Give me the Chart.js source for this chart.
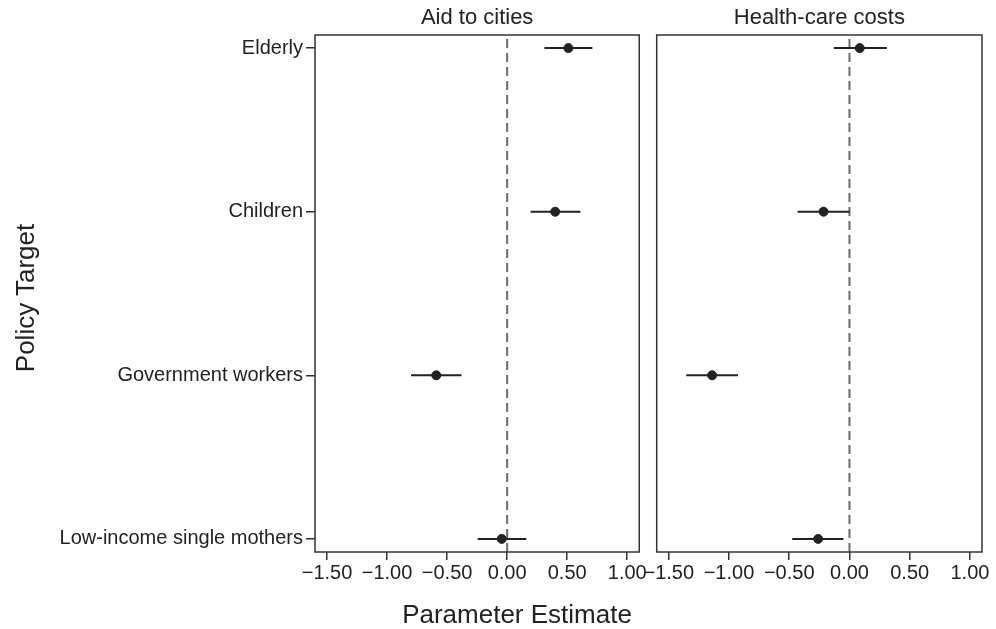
<!DOCTYPE html>
<html>
<head>
<meta charset="utf-8">
<script src="https://cdn.jsdelivr.net/npm/chart.js@4.4.1/dist/chart.umd.min.js"></script>
<style>
  body { margin: 0; background: #fff; }
  #wrap { position: relative; width: 996px; height: 629px; overflow: hidden; }
  canvas { position: absolute; top: 0; }
  .axis-title {
    position: absolute; text-align: center; color: #222;
    font: 26px "Liberation Sans", Arial, sans-serif; line-height: 26px; white-space: nowrap;
  }
  #xtitle { left: 317px; width: 400px; top: 601px; }
  #ytitle { left: -175px; width: 400px; top: 285px; transform: rotate(-90deg); }
</style>
</head>
<body>
<div id="wrap">
  <canvas id="leftChart" width="648" height="629" style="left:0"></canvas>
  <canvas id="rightChart" width="376" height="629" style="left:620px"></canvas>
  <div id="xtitle" class="axis-title">Parameter Estimate</div>
  <div id="ytitle" class="axis-title">Policy Target</div>
</div>
<script>
var categories = ['Elderly', 'Children', 'Government workers', 'Low-income single mothers'];
var xTicks = [-1.5, -1.0, -0.5, 0.0, 0.5, 1.0];

// Aid to cities
var aidEstimate = [0.51, 0.40, -0.59, -0.045];
var aidLower = [0.31, 0.195, -0.80, -0.245];
var aidUpper = [0.71, 0.61, -0.38, 0.16];

// Health-care costs
var healthEstimate = [0.085, -0.215, -1.14, -0.26];
var healthLower = [-0.13, -0.43, -1.355, -0.475];
var healthUpper = [0.31, 0.0, -0.925, -0.05];

var xMin = -1.6, xMax = 1.1;
var yMin = 0.92, yMax = 4.08;
var FONT = '"Liberation Sans", Arial, sans-serif';
var INK = '#222';

function yPos(i) { return categories.length - i; }

function fmt(v) {
    return v < 0 ? '\u2212' + Math.abs(v).toFixed(2) : v.toFixed(2);
}

// box round the plot area and the panel title centred over it
var framePlugin = {
    id: 'frame',
    afterDatasetsDraw: function(chart, args, opts) {
        var a = chart.chartArea, ctx = chart.ctx;
        ctx.save();
        ctx.strokeStyle = '#333';
        ctx.lineWidth = 1.5;
        ctx.strokeRect(a.left, a.top, a.right - a.left, a.bottom - a.top);
        ctx.fillStyle = INK;
        ctx.font = '22px ' + FONT;
        ctx.textAlign = 'center';
        ctx.textBaseline = 'middle';
        ctx.fillText(opts.text, (a.left + a.right) / 2, 18);
        ctx.restore();
    }
};

function buildDatasets(est, lo, hi) {
    var sets = [{
        type: 'line',
        data: [{ x: 0, y: yMin }, { x: 0, y: yMax }],
        borderColor: '#6b6b6b',
        borderWidth: 2,
        borderDash: [9, 5],
        pointRadius: 0,
        order: 3
    }];
    categories.forEach(function(c, i) {
        sets.push({
            type: 'line',
            data: [{ x: lo[i], y: yPos(i) }, { x: hi[i], y: yPos(i) }],
            borderColor: INK,
            borderWidth: 2,
            pointRadius: 0,
            order: 2
        });
    });
    sets.push({
        type: 'scatter',
        data: est.map(function(v, i) { return { x: v, y: yPos(i) }; }),
        backgroundColor: INK,
        borderColor: INK,
        pointRadius: 4.5,
        order: 1
    });
    return sets;
}

function makeChart(id, title, est, lo, hi, showY, padding) {
    var ctx = document.getElementById(id).getContext('2d');
    return new Chart(ctx, {
        type: 'scatter',
        data: { datasets: buildDatasets(est, lo, hi) },
        options: {
            responsive: false,
            animation: false,
            devicePixelRatio: 1,
            layout: { padding: padding },
            plugins: {
                legend: { display: false },
                tooltip: { enabled: false },
                title: { display: false },
                frame: { text: title }
            },
            scales: {
                x: {
                    type: 'linear',
                    min: xMin,
                    max: xMax,
                    afterBuildTicks: function(scale) {
                        scale.ticks = xTicks.map(function(v) { return { value: v }; });
                    },
                    afterFit: function(scale) { scale.height = 77; },
                    grid: { drawOnChartArea: false, drawTicks: true, tickLength: 8, color: '#333', lineWidth: 1.5 },
                    border: { display: false },
                    ticks: {
                        padding: 1,
                        color: INK,
                        maxRotation: 0,
                        autoSkip: false,
                        font: { family: FONT, size: 20 },
                        callback: function(v) { return fmt(v); }
                    }
                },
                y: {
                    type: 'linear',
                    display: showY,
                    min: yMin,
                    max: yMax,
                    afterBuildTicks: function(scale) {
                        scale.ticks = categories.map(function(c, i) { return { value: yPos(i) }; });
                    },
                    afterFit: function(scale) { if (showY) scale.width = 315; },
                    grid: { drawOnChartArea: false, drawTicks: true, tickLength: 9, color: '#333', lineWidth: 1.5 },
                    border: { display: false },
                    ticks: {
                        padding: 3,
                        color: INK,
                        autoSkip: false,
                        font: { family: FONT, size: 20 },
                        callback: function(v) { return categories[categories.length - v]; }
                    }
                }
            }
        },
        plugins: [framePlugin]
    });
}

makeChart('leftChart', 'Aid to cities', aidEstimate, aidLower, aidUpper, true,
    { left: 0, right: 8, top: 35, bottom: 0 });
makeChart('rightChart', 'Health-care costs', healthEstimate, healthLower, healthUpper, false,
    { left: 36.7, right: 14, top: 35, bottom: 0 });
</script>
</body>
</html>
